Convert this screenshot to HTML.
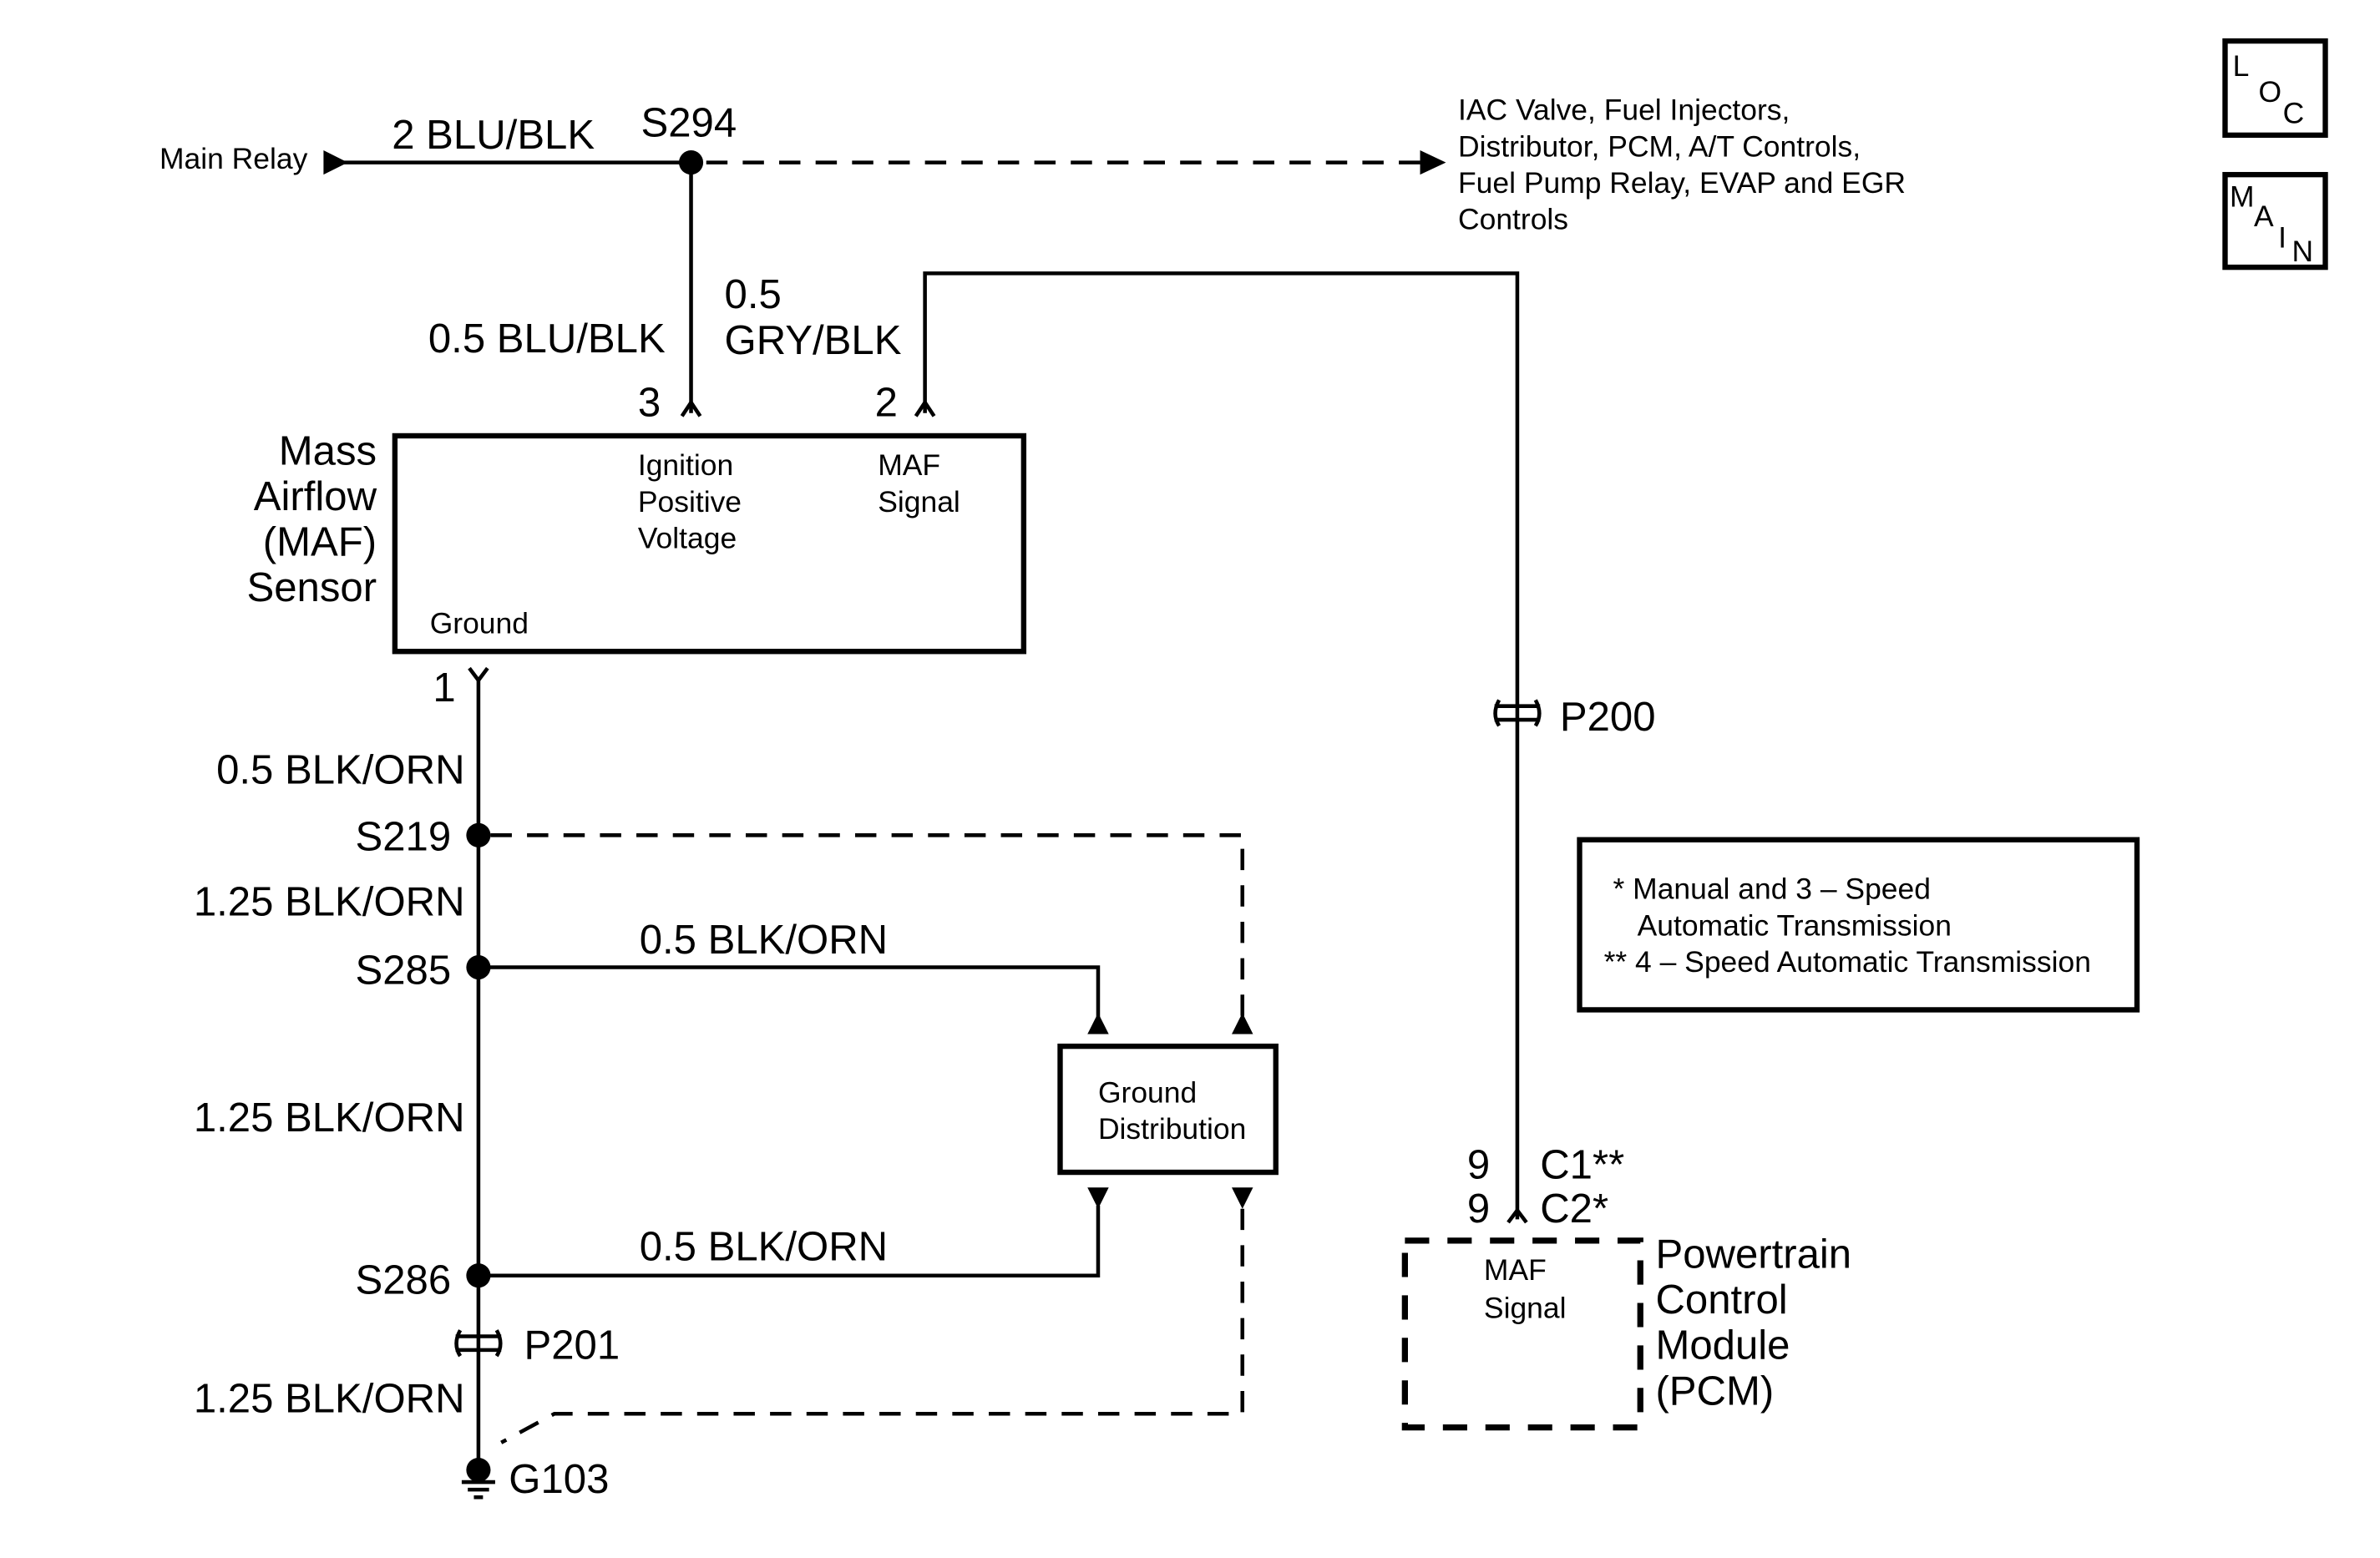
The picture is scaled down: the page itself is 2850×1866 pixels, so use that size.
<!DOCTYPE html>
<html><head><meta charset="utf-8"><style>html,body{margin:0;padding:0;background:#fff}svg{display:block}</style></head>
<body>
<svg width="2850" height="1866" viewBox="0 0 1567 1026" preserveAspectRatio="none" xmlns="http://www.w3.org/2000/svg" font-family="Liberation Sans, sans-serif" fill="#000">
<g stroke="#000" stroke-width="2.5" fill="none">
<line x1="226" y1="107" x2="455" y2="107"/>
<line x1="465" y1="107" x2="936" y2="107" stroke-dasharray="14,10"/>
<line x1="455" y1="107" x2="455" y2="272"/>
<polyline points="449,274 455,265 461,274"/>
<polyline points="609,272 609,180 999,180 999,803"/>
<polyline points="603,274 609,265 615,274"/>
<polyline points="993,805 999,797 1005,805"/>
<rect x="260" y="287" width="414" height="142" stroke-width="3.5"/>
<polyline points="309,440 315,448 321,440"/>
<line x1="315" y1="446" x2="315" y2="966"/>
<polyline points="323,550 818,550 818,672" stroke-dasharray="14,10"/>
<polyline points="315,637 723,637 723,672"/>
<rect x="698" y="689" width="142" height="83" stroke-width="3.5"/>
<polyline points="723,794 723,840 315,840"/>
<polyline points="818,796 818,931 365,931 330,950" stroke-dasharray="14,10"/>
<rect x="1040" y="553" width="367" height="112" stroke-width="3.5"/>
<rect x="925" y="817" width="155" height="123" stroke-width="4" stroke-dasharray="16,12"/>
<rect x="1465" y="27" width="66" height="62" stroke-width="3.5"/>
<rect x="1465" y="115" width="66" height="61" stroke-width="3.5"/>
<path d="M300,880 H330 M300,889 H330 M303,876 q-5,9 0,17 M327,876 q5,9 0,17"/>
<path d="M984,465 H1014 M984,474 H1014 M987,461 q-5,9 0,17 M1011,461 q5,9 0,17"/>
<path d="M304,976 H326 M308,981 H322 M312,986 H318"/>
</g>
<polygon points="213,99 229,107 213,115"/>
<polygon points="935,99 952,107 935,115"/>
<polygon points="716,681 723,667 730,681"/>
<polygon points="811,681 818,667 825,681"/>
<polygon points="716,782 723,796 730,782"/>
<polygon points="811,782 818,796 825,782"/>
<circle cx="455" cy="107" r="8"/>
<circle cx="315" cy="550" r="8"/>
<circle cx="315" cy="637" r="8"/>
<circle cx="315" cy="840" r="8"/>
<circle cx="315" cy="968" r="8"/>
<g font-size="19.5">
<text x="105" y="111">Main Relay</text>
<text x="960" y="79">IAC Valve, Fuel Injectors,</text>
<text x="960" y="103">Distributor, PCM, A/T Controls,</text>
<text x="960" y="127">Fuel Pump Relay, EVAP and EGR</text>
<text x="960" y="151">Controls</text>
<text x="420" y="313">Ignition</text>
<text x="420" y="337">Positive</text>
<text x="420" y="361">Voltage</text>
<text x="578" y="313">MAF</text>
<text x="578" y="337">Signal</text>
<text x="283" y="417">Ground</text>
<text x="723" y="726">Ground</text>
<text x="723" y="750">Distribution</text>
<text x="1062" y="592">* Manual and 3 – Speed</text>
<text x="1078" y="616">Automatic Transmission</text>
<text x="1056" y="640">** 4 – Speed Automatic Transmission</text>
<text x="977" y="843">MAF</text>
<text x="977" y="868">Signal</text>
<text x="1470" y="50">L</text><text x="1487" y="67">O</text><text x="1503" y="81">C</text>
<text x="1468" y="136">M</text><text x="1484" y="149">A</text><text x="1500" y="163">I</text><text x="1509" y="172">N</text>
</g>
<g font-size="27">
<text x="258" y="98">2 BLU/BLK</text>
<text x="422" y="90">S294</text>
<text x="282" y="232">0.5 BLU/BLK</text>
<text x="477" y="203">0.5</text>
<text x="477" y="233">GRY/BLK</text>
<text x="420" y="274">3</text>
<text x="576" y="274">2</text>
<text x="285" y="462">1</text>
<text x="1027" y="481">P200</text>
<text x="345" y="895">P201</text>
<text x="335" y="983">G103</text>
<text x="421" y="628">0.5 BLK/ORN</text>
<text x="421" y="830">0.5 BLK/ORN</text>
<text x="966" y="776">9</text><text x="1014" y="776">C1**</text>
<text x="966" y="805">9</text><text x="1014" y="805">C2*</text>
<text x="1090" y="835">Powertrain</text>
<text x="1090" y="865">Control</text>
<text x="1090" y="895">Module</text>
<text x="1090" y="925">(PCM)</text>
<g text-anchor="end">
<text x="248" y="306">Mass</text>
<text x="248" y="336">Airflow</text>
<text x="248" y="366">(MAF)</text>
<text x="248" y="396">Sensor</text>
<text x="306" y="516">0.5 BLK/ORN</text>
<text x="297" y="560">S219</text>
<text x="306" y="603">1.25 BLK/ORN</text>
<text x="297" y="648">S285</text>
<text x="306" y="745">1.25 BLK/ORN</text>
<text x="297" y="852">S286</text>
<text x="306" y="930">1.25 BLK/ORN</text>
</g>
</g>
</svg>
</body></html>
